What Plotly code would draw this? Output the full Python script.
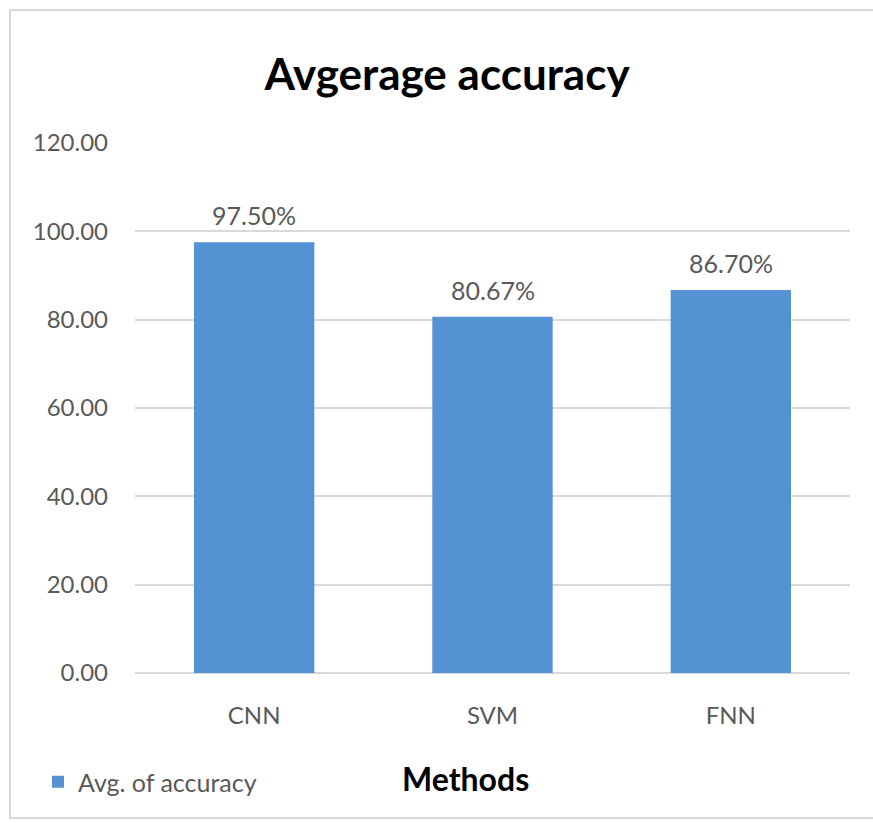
import plotly.graph_objects as go

# Average accuracy per method
methods = ["CNN", "SVM", "FNN"]
accuracy = [97.50, 80.67, 86.70]
y_ticks = [0, 20, 40, 60, 80, 100, 120]
y_tick_labels = [f"{t:.2f}" for t in y_ticks]

FONT = "Lato, 'Open Sans', sans-serif"
BAR_COLOR = "#5592d3"
GRID = "#d9d9d9"
TEXT = "#595959"

W, H = 873, 823
L, R, T, B = 135, 23, 143, 150
pw, ph = W - L - R, H - T - B


def px_x(x):
    return (x - L) / pw


def px_y(y):
    return (H - B - y) / ph


fig = go.Figure()
fig.add_trace(go.Bar(
    x=methods,
    y=accuracy,
    name="Avg. of accuracy",
    marker=dict(color=BAR_COLOR, line=dict(width=0)),
    width=0.505,
))

# Value labels above each bar
for m, v in zip(methods, accuracy):
    fig.add_annotation(
        x=m, y=v, text=f"{v:.2f}%", showarrow=False,
        yanchor="bottom", yshift=10,
        font=dict(family=FONT, size=25, color=TEXT),
    )

# Axis caption under the categories
fig.add_annotation(
    xref="paper", yref="paper", x=px_x(465), y=px_y(778),
    text="<b>Methods</b>", showarrow=False,
    xanchor="center", yanchor="middle",
    font=dict(family=FONT, size=32, color="#000000"),
)

# Light frame round the chart: left, top and bottom edges (open on the right)
fx0, fx1 = px_x(10), px_x(873)
fy0, fy1 = px_y(818), px_y(10)
fig.add_shape(
    type="path", xref="paper", yref="paper",
    path=f"M {fx1},{fy1} L {fx0},{fy1} L {fx0},{fy0} L {fx1},{fy0}",
    line=dict(color="#d9d9d9", width=2), fillcolor="rgba(0,0,0,0)",
    layer="below",
)

fig.update_layout(
    width=W, height=H,
    margin=dict(l=L, r=R, t=T, b=B),
    paper_bgcolor="white", plot_bgcolor="white",
    title=dict(
        text="<b>Avgerage accuracy</b>",
        x=px_x(447), xref="paper", xanchor="center",
        y=1 - 75 / H, yref="container", yanchor="middle",
        font=dict(family=FONT, size=44, color="#000000"),
    ),
    showlegend=True,
    legend=dict(
        x=px_x(38), y=px_y(782), xref="paper", yref="paper",
        xanchor="left", yanchor="middle",
        font=dict(family=FONT, size=25, color=TEXT),
        itemwidth=30, bgcolor="rgba(0,0,0,0)",
    ),
    xaxis=dict(
        showgrid=False, showline=False, zeroline=False,
        ticks="", ticklabelstandoff=26,
        tickfont=dict(family=FONT, size=24, color=TEXT),
    ),
    yaxis=dict(
        range=[0, 120], tickvals=y_ticks, ticktext=y_tick_labels,
        showgrid=True, gridcolor=GRID, gridwidth=2,
        zeroline=True, zerolinecolor=GRID, zerolinewidth=2,
        showline=False, ticks="", ticklabelstandoff=26,
        tickfont=dict(family=FONT, size=24, color=TEXT),
    ),
    bargap=0.495,
)

# Keep the page free of scrollbars so the chart fills the window
fig.write_html(
    "out.html",
    post_script="document.body.style.margin='0';document.body.style.overflow='hidden';",
)
